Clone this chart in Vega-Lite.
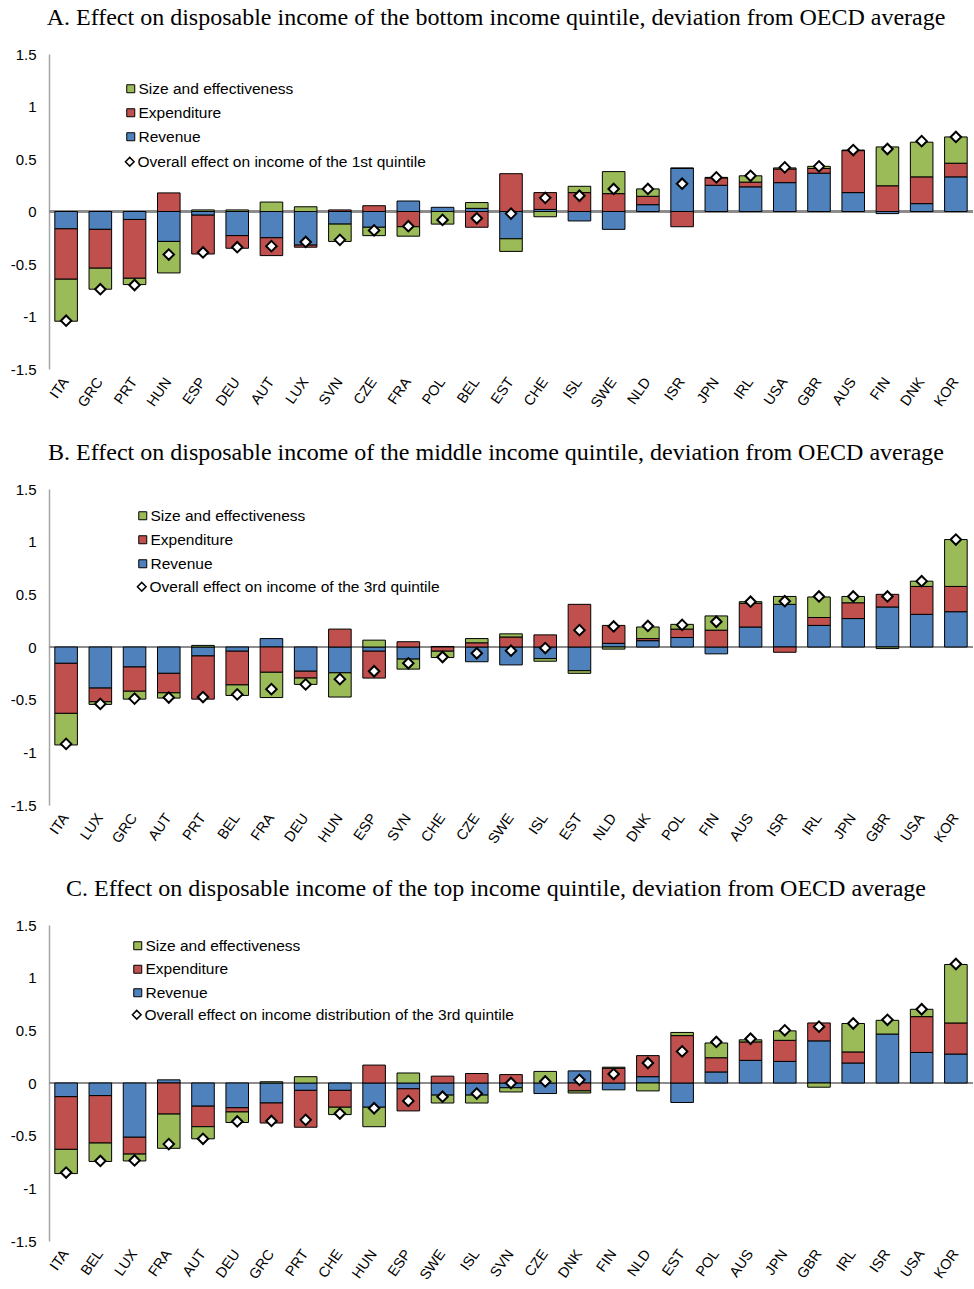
{
  "$schema": "https://vega.github.io/schema/vega-lite/v6.json",
  "padding": {"left": 10, "top": 6, "right": 0, "bottom": 0},
  "background": "white",
  "bounds": "flush",
  "spacing": 120,
  "config": {
    "view": {"stroke": null},
    "font": "Liberation Sans",
    "title": {"font": "Liberation Serif", "fontSize": 24, "fontWeight": "normal", "color": "black", "anchor": "middle", "frame": "group", "baseline": "alphabetic", "offset": 17, "dx": -15},
    "axisY": {"domainColor": "#a6a6a6", "domainWidth": 1.5, "gridColor": "#d9d9d9", "gridWidth": 1.5, "ticks": false, "labelFontSize": 15, "labelColor": "black", "labelPadding": 13, "labelFont": "Liberation Sans", "title": null},
    "axisX": {"domain": false, "ticks": false, "grid": false, "labelFontSize": 14.5, "labelColor": "black", "labelAngle": -55, "labelAlign": "right", "labelBaseline": "middle", "labelPadding": 10, "labelFont": "Liberation Sans", "title": null},
    "legend": {"padding": 0, "labelFontSize": 15.5, "labelFont": "Liberation Sans", "labelColor": "black", "labelOffset": 0, "rowPadding": 7, "labelLimit": 600, "title": null}
  },
  "datasets": {
    "d": [
      {"p":"A","c":"ITA","rev":-0.165,"spend":-0.48,"sz":-0.40,"t":-1.04},
      {"p":"A","c":"GRC","rev":-0.17,"spend":-0.37,"sz":-0.20,"t":-0.74},
      {"p":"A","c":"PRT","rev":-0.076,"spend":-0.56,"sz":-0.06,"t":-0.70},
      {"p":"A","c":"HUN","rev":-0.285,"spend":0.177,"sz":-0.30,"t":-0.41},
      {"p":"A","c":"ESP","rev":-0.035,"spend":-0.37,"sz":0.015,"t":-0.39},
      {"p":"A","c":"DEU","rev":-0.23,"spend":-0.12,"sz":0.015,"t":-0.34},
      {"p":"A","c":"AUT","rev":-0.25,"spend":-0.17,"sz":0.09,"t":-0.33},
      {"p":"A","c":"LUX","rev":-0.32,"spend":-0.02,"sz":0.045,"t":-0.29},
      {"p":"A","c":"SVN","rev":-0.12,"spend":0.015,"sz":-0.165,"t":-0.27},
      {"p":"A","c":"CZE","rev":-0.15,"spend":0.055,"sz":-0.08,"t":-0.18},
      {"p":"A","c":"FRA","rev":0.10,"spend":-0.145,"sz":-0.09,"t":-0.14},
      {"p":"A","c":"POL","rev":0.04,"spend":0,"sz":-0.12,"t":-0.08},
      {"p":"A","c":"BEL","rev":0.03,"spend":-0.15,"sz":0.055,"t":-0.065},
      {"p":"A","c":"EST","rev":-0.26,"spend":0.36,"sz":-0.12,"t":-0.02},
      {"p":"A","c":"CHE","rev":0.02,"spend":0.16,"sz":-0.05,"t":0.13},
      {"p":"A","c":"ISL","rev":-0.09,"spend":0.18,"sz":0.06,"t":0.15},
      {"p":"A","c":"SWE","rev":-0.17,"spend":0.17,"sz":0.21,"t":0.215},
      {"p":"A","c":"NLD","rev":0.065,"spend":0.08,"sz":0.07,"t":0.215},
      {"p":"A","c":"ISR","rev":0.41,"spend":-0.145,"sz":0.005,"t":0.265},
      {"p":"A","c":"JPN","rev":0.25,"spend":0.07,"sz":0.005,"t":0.325},
      {"p":"A","c":"IRL","rev":0.235,"spend":0.045,"sz":0.06,"t":0.34},
      {"p":"A","c":"USA","rev":0.275,"spend":0.13,"sz":0.01,"t":0.42},
      {"p":"A","c":"GBR","rev":0.365,"spend":0.045,"sz":0.02,"t":0.43},
      {"p":"A","c":"AUS","rev":0.18,"spend":0.40,"sz":0.005,"t":0.585},
      {"p":"A","c":"FIN","rev":-0.02,"spend":0.245,"sz":0.37,"t":0.595},
      {"p":"A","c":"DNK","rev":0.075,"spend":0.255,"sz":0.33,"t":0.67},
      {"p":"A","c":"KOR","rev":0.33,"spend":0.13,"sz":0.25,"t":0.71},

      {"p":"B","c":"ITA","rev":-0.155,"spend":-0.475,"sz":-0.30,"t":-0.92},
      {"p":"B","c":"LUX","rev":-0.39,"spend":-0.13,"sz":-0.025,"t":-0.54},
      {"p":"B","c":"GRC","rev":-0.19,"spend":-0.23,"sz":-0.075,"t":-0.49},
      {"p":"B","c":"AUT","rev":-0.25,"spend":-0.185,"sz":-0.05,"t":-0.48},
      {"p":"B","c":"PRT","rev":-0.085,"spend":-0.41,"sz":0.015,"t":-0.475},
      {"p":"B","c":"BEL","rev":-0.04,"spend":-0.32,"sz":-0.10,"t":-0.45},
      {"p":"B","c":"FRA","rev":0.08,"spend":-0.24,"sz":-0.24,"t":-0.40},
      {"p":"B","c":"DEU","rev":-0.23,"spend":-0.065,"sz":-0.06,"t":-0.355},
      {"p":"B","c":"HUN","rev":-0.245,"spend":0.17,"sz":-0.23,"t":-0.305},
      {"p":"B","c":"ESP","rev":-0.04,"spend":-0.255,"sz":0.065,"t":-0.23},
      {"p":"B","c":"SVN","rev":-0.115,"spend":0.05,"sz":-0.095,"t":-0.155},
      {"p":"B","c":"CHE","rev":0.005,"spend":-0.04,"sz":-0.06,"t":-0.095},
      {"p":"B","c":"CZE","rev":-0.14,"spend":0.04,"sz":0.04,"t":-0.06},
      {"p":"B","c":"SWE","rev":-0.17,"spend":0.095,"sz":0.03,"t":-0.035},
      {"p":"B","c":"ISL","rev":-0.11,"spend":0.115,"sz":-0.025,"t":-0.01},
      {"p":"B","c":"EST","rev":-0.225,"spend":0.405,"sz":-0.025,"t":0.16},
      {"p":"B","c":"NLD","rev":0.035,"spend":0.17,"sz":-0.02,"t":0.195},
      {"p":"B","c":"DNK","rev":0.06,"spend":0.02,"sz":0.11,"t":0.2},
      {"p":"B","c":"POL","rev":0.09,"spend":0.08,"sz":0.045,"t":0.21},
      {"p":"B","c":"FIN","rev":-0.065,"spend":0.16,"sz":0.135,"t":0.24},
      {"p":"B","c":"AUS","rev":0.19,"spend":0.225,"sz":0.015,"t":0.43},
      {"p":"B","c":"ISR","rev":0.405,"spend":-0.05,"sz":0.075,"t":0.435},
      {"p":"B","c":"IRL","rev":0.205,"spend":0.075,"sz":0.195,"t":0.48},
      {"p":"B","c":"JPN","rev":0.27,"spend":0.15,"sz":0.06,"t":0.48},
      {"p":"B","c":"GBR","rev":0.38,"spend":0.12,"sz":-0.015,"t":0.48},
      {"p":"B","c":"USA","rev":0.31,"spend":0.265,"sz":0.05,"t":0.625},
      {"p":"B","c":"KOR","rev":0.335,"spend":0.24,"sz":0.445,"t":1.02},

      {"p":"C","c":"ITA","rev":-0.13,"spend":-0.50,"sz":-0.23,"t":-0.85},
      {"p":"C","c":"BEL","rev":-0.12,"spend":-0.45,"sz":-0.175,"t":-0.74},
      {"p":"C","c":"LUX","rev":-0.515,"spend":-0.16,"sz":-0.065,"t":-0.735},
      {"p":"C","c":"FRA","rev":0.03,"spend":-0.295,"sz":-0.325,"t":-0.58},
      {"p":"C","c":"AUT","rev":-0.22,"spend":-0.195,"sz":-0.115,"t":-0.53},
      {"p":"C","c":"DEU","rev":-0.235,"spend":-0.04,"sz":-0.10,"t":-0.365},
      {"p":"C","c":"GRC","rev":-0.19,"spend":-0.19,"sz":0.012,"t":-0.36},
      {"p":"C","c":"PRT","rev":-0.07,"spend":-0.35,"sz":0.06,"t":-0.35},
      {"p":"C","c":"CHE","rev":-0.07,"spend":-0.16,"sz":-0.07,"t":-0.29},
      {"p":"C","c":"HUN","rev":-0.23,"spend":0.17,"sz":-0.185,"t":-0.24},
      {"p":"C","c":"ESP","rev":-0.055,"spend":-0.21,"sz":0.095,"t":-0.17},
      {"p":"C","c":"SWE","rev":-0.115,"spend":0.065,"sz":-0.075,"t":-0.13},
      {"p":"C","c":"ISL","rev":-0.115,"spend":0.09,"sz":-0.075,"t":-0.10},
      {"p":"C","c":"SVN","rev":-0.045,"spend":0.08,"sz":-0.04,"t":0.0},
      {"p":"C","c":"CZE","rev":-0.10,"spend":0,"sz":0.11,"t":0.015},
      {"p":"C","c":"DNK","rev":0.115,"spend":-0.075,"sz":-0.02,"t":0.03},
      {"p":"C","c":"FIN","rev":-0.065,"spend":0.14,"sz":0.01,"t":0.085},
      {"p":"C","c":"NLD","rev":0.06,"spend":0.2,"sz":-0.075,"t":0.19},
      {"p":"C","c":"EST","rev":-0.185,"spend":0.45,"sz":0.03,"t":0.30},
      {"p":"C","c":"POL","rev":0.105,"spend":0.135,"sz":0.14,"t":0.39},
      {"p":"C","c":"AUS","rev":0.215,"spend":0.175,"sz":0.02,"t":0.42},
      {"p":"C","c":"JPN","rev":0.205,"spend":0.20,"sz":0.09,"t":0.50},
      {"p":"C","c":"GBR","rev":0.40,"spend":0.17,"sz":-0.04,"t":0.535},
      {"p":"C","c":"IRL","rev":0.19,"spend":0.105,"sz":0.27,"t":0.565},
      {"p":"C","c":"ISR","rev":0.465,"spend":0,"sz":0.13,"t":0.60},
      {"p":"C","c":"USA","rev":0.29,"spend":0.34,"sz":0.07,"t":0.70},
      {"p":"C","c":"KOR","rev":0.275,"spend":0.295,"sz":0.555,"t":1.13}
    ]
  },
  "resolve": {"scale": {"x": "independent", "color": "independent", "shape": "independent"}, "legend": {"color": "independent", "shape": "independent"}},
  "vconcat": [
    {
      "title": {"text": "A. Effect on disposable income of the bottom income quintile, deviation from OECD average"},
      "width": 924, "height": 315,
      "data": {"name": "d"},
      "transform": [{"filter": "datum.p == 'A'"}],
      "encoding": {
        "x": {"field": "c", "type": "nominal", "sort": ["ITA","GRC","PRT","HUN","ESP","DEU","AUT","LUX","SVN","CZE","FRA","POL","BEL","EST","CHE","ISL","SWE","NLD","ISR","JPN","IRL","USA","GBR","AUS","FIN","DNK","KOR"], "scale": {"paddingInner": 0.34, "paddingOuter": 0.17}}
      },
      "layer": [
        {"mark": {"type": "rule", "color": "#8c8c8c", "strokeWidth": 1.5}, "encoding": {"x": null, "y": {"datum": 0, "type": "quantitative", "scale": {"domain": [-1.5, 1.5], "nice": false}}}},
        {
          "transform": [{"fold": ["rev", "spend", "sz"], "as": ["k", "v"]}, {"filter": "datum.v != 0"}],
          "mark": {"type": "bar", "stroke": "black", "strokeWidth": 1},
          "encoding": {
            "y": {"field": "v", "type": "quantitative", "stack": "zero", "scale": {"domain": [-1.5, 1.5], "nice": false}, "axis": {"values": [-1.5,-1,-0.5,0,0.5,1,1.5], "labelExpr": "'' + datum.value"}},
            "color": {"field": "k", "type": "nominal", "scale": {"domain": ["sz","spend","rev"], "range": ["#9BBB59","#C0504D","#4F81BD"]}, "legend": {"orient": "none", "legendX": 74, "legendY": 27, "symbolType": "square", "symbolSize": 64, "symbolStrokeColor": "black", "symbolStrokeWidth": 1, "labelExpr": "datum.label == 'sz' ? 'Size and effectiveness' : datum.label == 'spend' ? 'Expenditure' : 'Revenue'"}},
            "order": {"field": "k", "type": "nominal", "sort": "ascending"}
          }
        },
        {
          "mark": {"type": "point", "filled": true, "fill": "white", "stroke": "black", "strokeWidth": 2, "size": 110, "opacity": 1},
          "encoding": {
            "y": {"field": "t", "type": "quantitative"},
            "shape": {"datum": "Overall effect on income of the 1st quintile", "scale": {"range": ["diamond"]}, "legend": {"orient": "none", "legendX": 73, "legendY": 100, "symbolType": "diamond", "symbolSize": 75, "encode": {"symbols": {"update": {"fill": {"value": "white"}, "stroke": {"value": "black"}, "strokeWidth": {"value": 1.8}, "opacity": {"value": 1}}}}}}
          }
        }
      ]
    },
    {
      "title": {"text": "B. Effect on disposable income of the middle income quintile, deviation from OECD average"},
      "width": 924, "height": 316,
      "data": {"name": "d"},
      "transform": [{"filter": "datum.p == 'B'"}],
      "encoding": {
        "x": {"field": "c", "type": "nominal", "sort": ["ITA","LUX","GRC","AUT","PRT","BEL","FRA","DEU","HUN","ESP","SVN","CHE","CZE","SWE","ISL","EST","NLD","DNK","POL","FIN","AUS","ISR","IRL","JPN","GBR","USA","KOR"], "scale": {"paddingInner": 0.34, "paddingOuter": 0.17}}
      },
      "layer": [
        {"mark": {"type": "rule", "color": "#8c8c8c", "strokeWidth": 1.5}, "encoding": {"x": null, "y": {"datum": 0, "type": "quantitative", "scale": {"domain": [-1.5, 1.5], "nice": false}}}},
        {
          "transform": [{"fold": ["rev", "spend", "sz"], "as": ["k", "v"]}, {"filter": "datum.v != 0"}],
          "mark": {"type": "bar", "stroke": "black", "strokeWidth": 1},
          "encoding": {
            "y": {"field": "v", "type": "quantitative", "stack": "zero", "scale": {"domain": [-1.5, 1.5], "nice": false}, "axis": {"values": [-1.5,-1,-0.5,0,0.5,1,1.5], "labelExpr": "'' + datum.value"}},
            "color": {"field": "k", "type": "nominal", "scale": {"domain": ["sz","spend","rev"], "range": ["#9BBB59","#C0504D","#4F81BD"]}, "legend": {"orient": "none", "legendX": 86, "legendY": 19, "symbolType": "square", "symbolSize": 64, "symbolStrokeColor": "black", "symbolStrokeWidth": 1, "labelExpr": "datum.label == 'sz' ? 'Size and effectiveness' : datum.label == 'spend' ? 'Expenditure' : 'Revenue'"}},
            "order": {"field": "k", "type": "nominal", "sort": "ascending"}
          }
        },
        {
          "mark": {"type": "point", "filled": true, "fill": "white", "stroke": "black", "strokeWidth": 2, "size": 110, "opacity": 1},
          "encoding": {
            "y": {"field": "t", "type": "quantitative"},
            "shape": {"datum": "Overall effect on income of the 3rd quintile", "scale": {"range": ["diamond"]}, "legend": {"orient": "none", "legendX": 85, "legendY": 90, "symbolType": "diamond", "symbolSize": 75, "encode": {"symbols": {"update": {"fill": {"value": "white"}, "stroke": {"value": "black"}, "strokeWidth": {"value": 1.8}, "opacity": {"value": 1}}}}}}
          }
        }
      ]
    },
    {
      "title": {"text": "C. Effect on disposable income of the top income quintile, deviation from OECD average"},
      "width": 924, "height": 316,
      "data": {"name": "d"},
      "transform": [{"filter": "datum.p == 'C'"}],
      "encoding": {
        "x": {"field": "c", "type": "nominal", "sort": ["ITA","BEL","LUX","FRA","AUT","DEU","GRC","PRT","CHE","HUN","ESP","SWE","ISL","SVN","CZE","DNK","FIN","NLD","EST","POL","AUS","JPN","GBR","IRL","ISR","USA","KOR"], "scale": {"paddingInner": 0.34, "paddingOuter": 0.17}}
      },
      "layer": [
        {"mark": {"type": "rule", "color": "#8c8c8c", "strokeWidth": 1.5}, "encoding": {"x": null, "y": {"datum": 0, "type": "quantitative", "scale": {"domain": [-1.5, 1.5], "nice": false}}}},
        {
          "transform": [{"fold": ["rev", "spend", "sz"], "as": ["k", "v"]}, {"filter": "datum.v != 0"}],
          "mark": {"type": "bar", "stroke": "black", "strokeWidth": 1},
          "encoding": {
            "y": {"field": "v", "type": "quantitative", "stack": "zero", "scale": {"domain": [-1.5, 1.5], "nice": false}, "axis": {"values": [-1.5,-1,-0.5,0,0.5,1,1.5], "labelExpr": "'' + datum.value"}},
            "color": {"field": "k", "type": "nominal", "scale": {"domain": ["sz","spend","rev"], "range": ["#9BBB59","#C0504D","#4F81BD"]}, "legend": {"orient": "none", "legendX": 81, "legendY": 13, "rowPadding": 6.5, "symbolType": "square", "symbolSize": 64, "symbolStrokeColor": "black", "symbolStrokeWidth": 1, "labelExpr": "datum.label == 'sz' ? 'Size and effectiveness' : datum.label == 'spend' ? 'Expenditure' : 'Revenue'"}},
            "order": {"field": "k", "type": "nominal", "sort": "ascending"}
          }
        },
        {
          "mark": {"type": "point", "filled": true, "fill": "white", "stroke": "black", "strokeWidth": 2, "size": 110, "opacity": 1},
          "encoding": {
            "y": {"field": "t", "type": "quantitative"},
            "shape": {"datum": "Overall effect on income distribution of the 3rd quintile", "scale": {"range": ["diamond"]}, "legend": {"orient": "none", "legendX": 80, "legendY": 82, "symbolType": "diamond", "symbolSize": 75, "encode": {"symbols": {"update": {"fill": {"value": "white"}, "stroke": {"value": "black"}, "strokeWidth": {"value": 1.8}, "opacity": {"value": 1}}}}}}
          }
        }
      ]
    }
  ]
}
